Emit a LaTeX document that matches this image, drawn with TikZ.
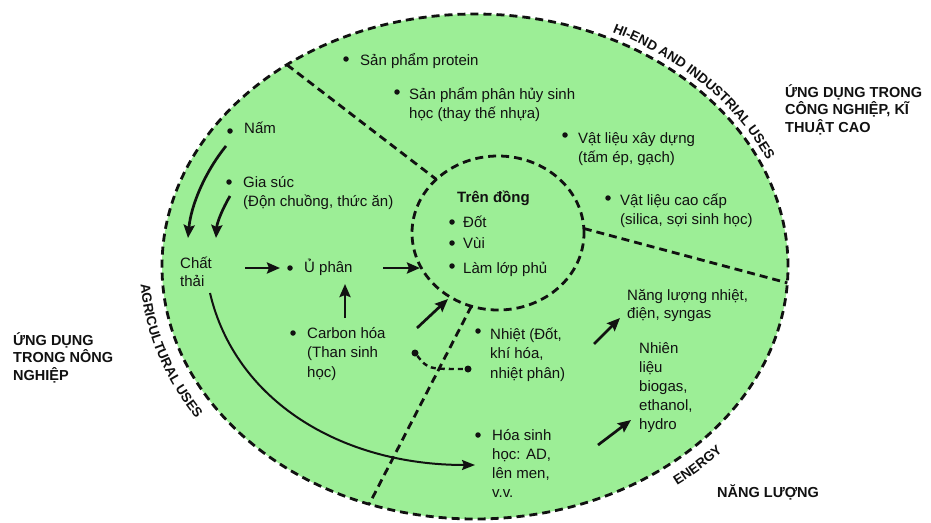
\documentclass[tikz,border=0pt]{standalone}
\usepackage{fontspec}
\setmainfont{Liberation Sans}
\usetikzlibrary{shapes.geometric,arrows.meta,decorations.text}
\definecolor{fieldgreen}{HTML}{9CEE96}
\definecolor{ink}{HTML}{111111}
\newcommand\curvfont{\fontsize{13.5}{16}\selectfont\bfseries\color{ink}}
\begin{document}
\begin{tikzpicture}[x=1pt,y=-1pt,
  dashline/.style={line width=2.8pt, dash pattern=on 8pt off 5pt, draw=ink},
  item/.style={anchor=base west, align=left, inner sep=0pt, font=\fontsize{15}{19.5}\selectfont, text=ink},
  caps/.style={anchor=base west, align=left, inner sep=0pt, font=\fontsize{14.5}{17.5}\selectfont\bfseries, text=ink},
  bul/.style={circle, fill=ink, inner sep=0pt, minimum size=5.5pt},
  dotc/.style={circle, fill=ink, inner sep=0pt, minimum size=7pt},
  arr/.style={line width=2.7pt, draw=ink, -{Stealth[length=13pt,width=11pt,inset=2pt]}},
  longarr/.style={line width=2pt, draw=ink, -{Stealth[length=13pt,width=10pt,inset=2pt]}},
  dotline/.style={line width=2.4pt, draw=ink, dash pattern=on 5pt off 4pt},
  curved/.style={decorate, decoration={text along path, text align=center, text={|\curvfont|#1}}}
]
\useasboundingbox (0,0) rectangle (931,522);
\fill[white] (0,0) rectangle (931,522);

% outer ellipse and inner field circle
\node[ellipse, minimum width=626pt, minimum height=505pt, inner sep=0pt, outer sep=0pt,
      fill=fieldgreen, dashline] (outer) at (475,266.5) {};
\node[ellipse, minimum width=172pt, minimum height=154pt, inner sep=0pt, outer sep=0pt,
      dashline] (field) at (498,233) {};

% dividers
\draw[dashline] (outer.133.3) -- (field.139);
\draw[dashline] (field.3) -- (outer.-3);
\draw[dashline] (field.250) -- (outer.246.3);

% curved sector labels
\path[curved={HI-END AND INDUSTRIAL USES}] plot[domain=-74:-13, samples=120] ({475+320*cos(\x)},{266.5+259.5*sin(\x)});
\path[curved={AGRICULTURAL USES}] plot[domain=192:132, samples=120] ({475+335*cos(\x)},{266.5+274.5*sin(\x)});
\path[curved={ENERGY}] plot[domain=67:27, samples=80] ({475+335*cos(\x)},{266.5+274.5*sin(\x)});

% outside labels (anchor = baseline of the last line)
\node[caps] (lblind) at (785,132) {ỨNG DỤNG TRONG\\CÔNG NGHIỆP, KĨ\\THUẬT CAO};
\node[caps] (lblagr) at (13,380) {ỨNG DỤNG\\TRONG NÔNG\\NGHIỆP};
\node[caps] (lblen) at (717,497) {NĂNG LƯỢNG};

% hi-end sector
\node[bul] (bprotein) at (346,59) {};
\node[item] (protein) at (360,65) {Sản phẩm protein};
\node[bul] (bbiodeg) at (397,92) {};
\node[item] (biodeg) at (409,118.5) {Sản phẩm phân hủy sinh\\học (thay thế nhựa)};
\node[bul] (bbuild) at (565,135) {};
\node[item] (build) at (578,162.5) {Vật liệu xây dựng\\(tấm ép, gạch)};
\node[bul] (bhiend) at (608,198) {};
\node[item] (hiend) at (620,224.5) {Vật liệu cao cấp\\(silica, sợi sinh học)};

% agricultural sector
\node[bul] (bnam) at (230,131) {};
\node[item] (nam) at (244,133) {Nấm};
\node[bul] (bgiasuc) at (229,182) {};
\node[item] (giasuc) at (243,206.5) {Gia súc\\(Độn chuồng, thức ăn)};
\node[item, font=\fontsize{15}{18}\selectfont] (chatthai) at (180,286) {Chất\\thải};
\node[bul] (buphan) at (290,268) {};
\node[item] (uphan) at (304,272) {Ủ phân};
\node[bul] (bcarbon) at (293,333) {};
\node[item] (carbon) at (307,377) {Carbon hóa\\(Than sinh\\học)};

% field
\node[item, font=\fontsize{15}{19.5}\selectfont\bfseries] (trendong) at (457,202) {Trên đồng};
\node[bul] (bdot) at (452,222) {};
\node[item] (dot) at (463,227) {Đốt};
\node[bul] (bvui) at (452,243) {};
\node[item] (vui) at (463,248) {Vùi};
\node[bul] (bphu) at (452,266) {};
\node[item] (phu) at (463,273) {Làm lớp phủ};

% energy sector
\node[bul] (bnhiet) at (478,331) {};
\node[item] (nhiet) at (490,378) {Nhiệt (Đốt,\\khí hóa,\\nhiệt phân)};
\node[item, font=\fontsize{15}{18.5}\selectfont] (nlnhiet) at (627,318.5) {Năng lượng nhiệt,\\điện, syngas};
\node[item, font=\fontsize{15}{19}\selectfont] (nhienlieu) at (639,429) {Nhiên\\liệu\\biogas,\\ethanol,\\hydro};
\node[bul] (bhoasinh) at (478,435) {};
\node[item, font=\fontsize{15}{19}\selectfont] (hoasinh) at (492,497) {Hóa sinh\\học: AD,\\lên men,\\v.v.};

% arrow end points
\coordinate (a1s) at (226,146); \coordinate (a1e) at (188,238);
\coordinate (a2s) at (230,196); \coordinate (a2e) at (216,238);
\coordinate (a3s) at (245,268); \coordinate (a3e) at (280,268);
\coordinate (a4s) at (383,268); \coordinate (a4e) at (420,268);
\coordinate (a5s) at (345,318); \coordinate (a5e) at (345,284);
\coordinate (a6s) at (417,328); \coordinate (a6e) at (448,299);
\coordinate (a7s) at (594,344); \coordinate (a7e) at (620,318);
\coordinate (a8s) at (598,445); \coordinate (a8e) at (631,420);
\coordinate (lts) at (210,293); \coordinate (lte) at (475,465);

\draw[arr] (a1s) .. controls (205,172) and (191,205) .. (a1e);
\draw[arr] (a2s) .. controls (223,208) and (217,222) .. (a2e);
\draw[arr] (a3s) -- (a3e);
\draw[arr] (a4s) -- (a4e);
\draw[arr] (a5s) -- (a5e);
\draw[arr] (a6s) -- (a6e);
\draw[arr] (a7s) -- (a7e);
\draw[arr] (a8s) -- (a8e);
\draw[longarr] (lts) .. controls (235,400) and (340,465) .. (lte);

% dotted link between carbonisation and thermal
\node[dotc] (d1) at (415,353) {};
\node[dotc] (d2) at (468,369) {};
\draw[dotline] (d1) .. controls (428,369) .. (d2);
\end{tikzpicture}
\end{document}
